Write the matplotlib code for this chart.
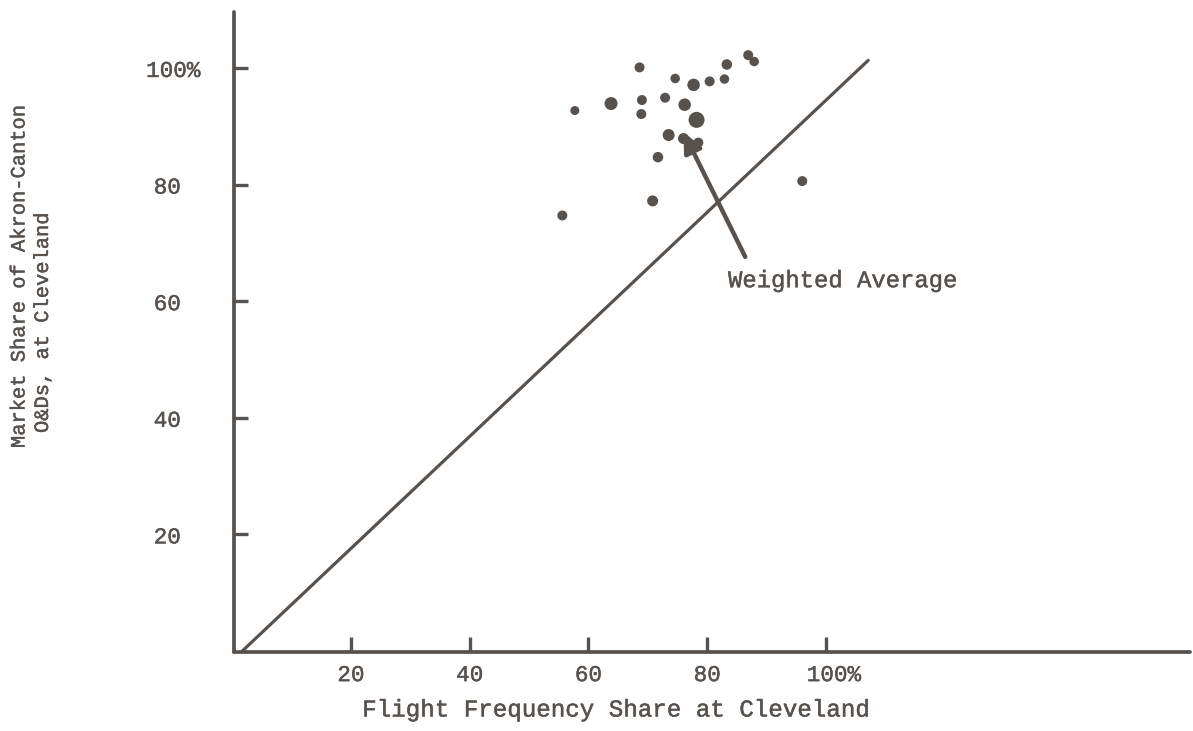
import matplotlib
matplotlib.use("Agg")
import matplotlib.pyplot as plt
import matplotlib.patheffects as pe
from matplotlib.transforms import ScaledTranslation

# scanned typewriter chart: ink colour and font
ink = '#57524e'
plt.rcParams['font.family'] = ['Liberation Mono', 'DejaVu Sans Mono']
heavy = [pe.withStroke(linewidth=0.3, foreground=ink)]

# flight frequency share (%) vs market share (%) for each market
freq_share = [86.9, 87.9, 83.3, 68.6, 74.6, 77.7, 80.4, 82.9, 57.7, 63.8, 69.0,
              72.9, 76.2, 68.9, 78.2, 73.5, 76.0, 78.5, 71.7, 70.8, 55.6, 96.0]
mkt_share = [102.2, 101.1, 100.6, 100.1, 98.2, 97.1, 97.7, 98.1, 92.7, 93.9, 94.5,
             94.9, 93.7, 92.1, 91.1, 88.5, 87.9, 87.2, 84.7, 77.2, 74.7, 80.6]
# dot diameter in pixels as printed
dot_px = [10, 9.5, 10.5, 10, 9.5, 12.5, 10, 9.5, 9, 13, 10,
          10, 12.5, 10, 16, 12, 11, 10, 10.5, 11, 10, 10]

xticks = [20, 40, 60, 80, 100]
xtick_labels = ['20', '40', '60', '80', '100%']
yticks = [20, 40, 60, 80, 100]
ytick_labels = ['20', '40', '60', '80', '100%']

# hand-drawn reference line and the arrow to the weighted average
diag_x = [1.7, 107.1]
diag_y = [0.0, 101.3]
avg_point = (76.0, 89.0)
avg_label = (83.5, 62.4)
arrow_tail = (86.4, 67.6)

fig = plt.figure(figsize=(11.93, 7.31), dpi=100)
ax = fig.add_axes([0.19614, 0.10807, 0.80134, 0.87551])
ax.set_xlim(0.3, 161.3)
ax.set_ylim(-0.17, 109.6)

for side in ['top', 'right']:
    ax.spines[side].set_visible(False)
for side in ['left', 'bottom']:
    ax.spines[side].set_linewidth(2.7)
    ax.spines[side].set_color(ink)
    ax.spines[side].set_capstyle('round')

ax.plot(diag_x, diag_y, color=ink, lw=2.3, solid_capstyle='round')

sizes = [(d * 72 / 100.0) ** 2 for d in dot_px]
ax.scatter(freq_share, mkt_share, s=sizes, color=ink, edgecolors='none', zorder=3)

ax.annotate('', xy=avg_point, xytext=arrow_tail,
            arrowprops=dict(arrowstyle='-|>,head_length=0.6,head_width=0.28',
                            lw=3.2, color=ink, shrinkA=0, shrinkB=0,
                            mutation_scale=20))
ax.text(avg_label[0], avg_label[1], 'Weighted Average', fontsize=17.2,
        color=ink, ha='left', va='baseline', path_effects=heavy)

ax.set_xticks(xticks, xtick_labels, path_effects=heavy)
ax.set_yticks(yticks, ytick_labels, ha='center', path_effects=heavy)
ax.tick_params(axis='x', direction='in', length=11, width=2.4, color=ink,
               labelsize=16.3, labelcolor=ink, pad=8)
ax.tick_params(axis='y', direction='in', length=10, width=2.4, color=ink,
               labelsize=16.3, labelcolor=ink, pad=48)

# the "%" hangs past the typed number
ax.get_xticklabels()[-1].set_transform(
    ax.get_xticklabels()[-1].get_transform() + ScaledTranslation(0.08, 0, fig.dpi_scale_trans))
ax.get_yticklabels()[-1].set_transform(
    ax.get_yticklabels()[-1].get_transform() + ScaledTranslation(0.06, 0, fig.dpi_scale_trans))

fig.text(616 / 1193, 1 - 710 / 731, 'Flight Frequency Share at Cleveland',
         fontsize=17.4, color=ink, ha='center', va='center', path_effects=heavy)
fig.text(19 / 1193, 1 - 448 / 731, 'Market Share of Akron-Canton',
         fontsize=14.7, color=ink, rotation=90, ha='center', va='bottom',
         path_effects=heavy)
fig.text(42.5 / 1193, 1 - 433 / 731, 'O&Ds, at Cleveland',
         fontsize=14.7, color=ink, rotation=90, ha='center', va='bottom',
         path_effects=heavy)

fig.savefig('out.png', dpi=100, facecolor='white')
